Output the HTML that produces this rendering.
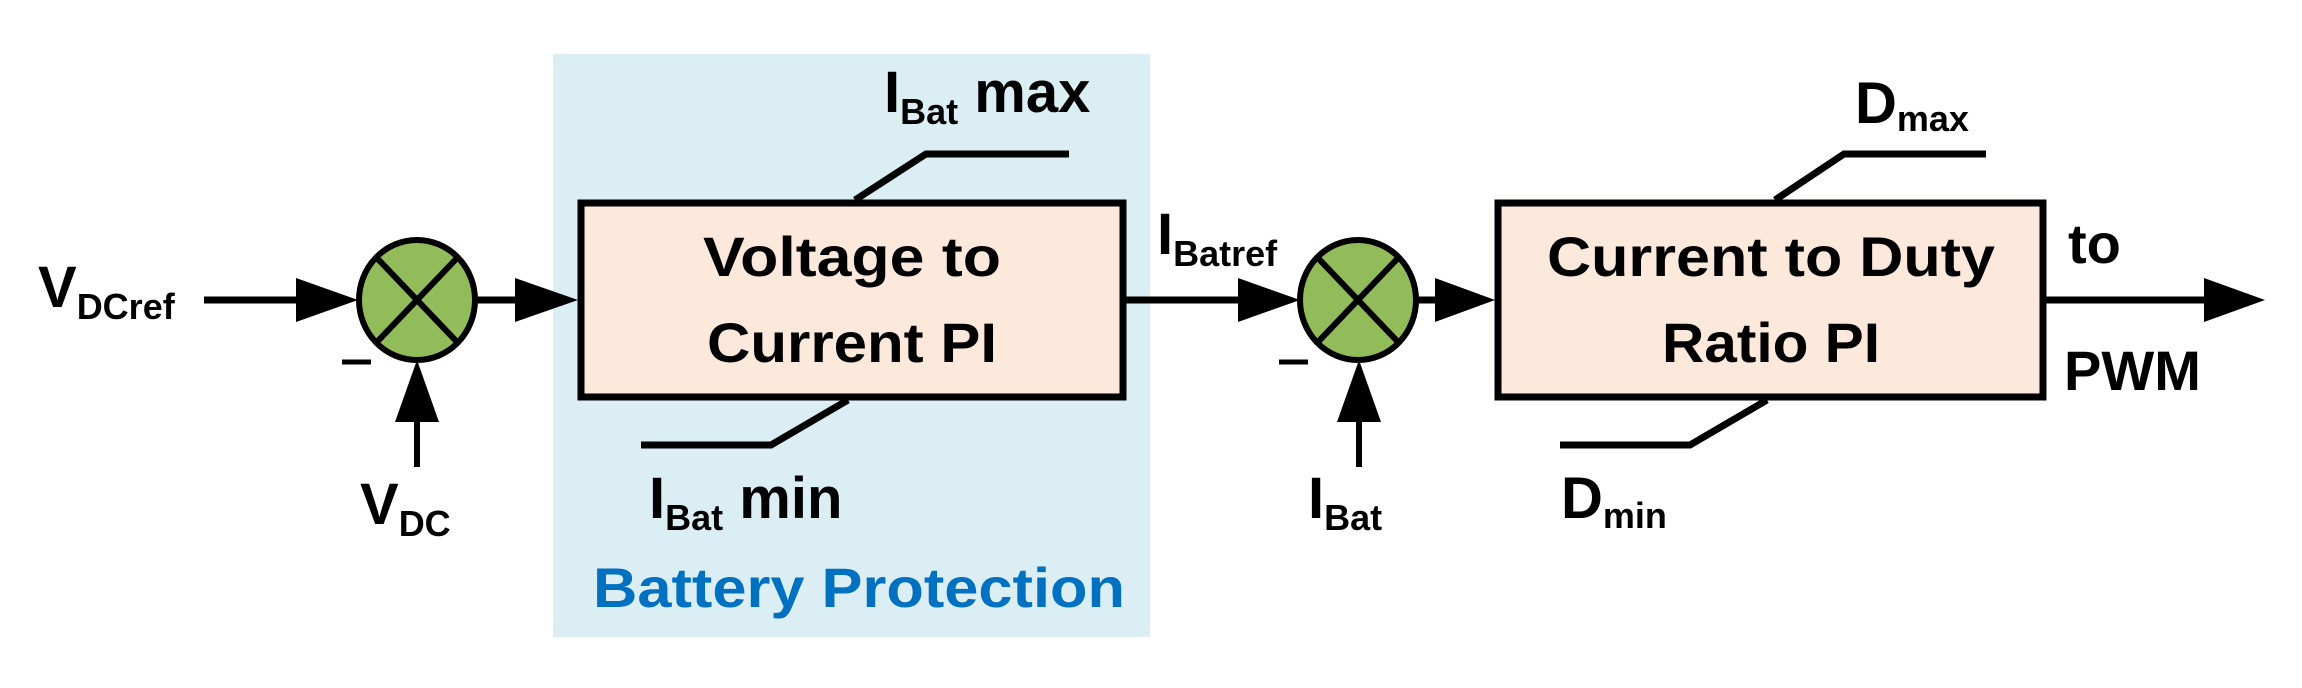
<!DOCTYPE html>
<html><head><meta charset="utf-8"><style>
html,body{margin:0;padding:0;background:#fff}
svg{display:block}
text{font-family:"Liberation Sans",sans-serif;font-weight:bold;fill:#000}
</style></head><body>
<svg width="2302" height="688" viewBox="0 0 2302 688" xmlns="http://www.w3.org/2000/svg">
<rect x="553" y="54" width="597" height="583" fill="#daeef3"/>
<!-- input line 1 -->
<line x1="204" y1="300" x2="300" y2="300" stroke="#000" stroke-width="7"/>
<polygon points="296,278 358,300 296,322" fill="#000"/>
<!-- summer 1 -->
<ellipse cx="417" cy="300" rx="58" ry="60" fill="#92bb5a" stroke="#000" stroke-width="6"/>
<line x1="376" y1="257" x2="458" y2="343" stroke="#000" stroke-width="6"/>
<line x1="458" y1="257" x2="376" y2="343" stroke="#000" stroke-width="6"/>
<line x1="476" y1="300" x2="520" y2="300" stroke="#000" stroke-width="7"/>
<polygon points="515,278 578,300 515,322" fill="#000"/>
<line x1="342" y1="362" x2="371" y2="362" stroke="#000" stroke-width="5"/>
<line x1="417" y1="467" x2="417" y2="415" stroke="#000" stroke-width="6"/>
<polygon points="395,422 417,360 439,422" fill="#000"/>
<!-- box1 -->
<rect x="581" y="203" width="542" height="194" fill="#fde9dc" stroke="#000" stroke-width="7"/>
<polyline points="855,200 926,154 1069,154" fill="none" stroke="#000" stroke-width="7"/>
<polyline points="641,445 771,445 848,400" fill="none" stroke="#000" stroke-width="7"/>
<!-- line to summer 2 -->
<line x1="1126" y1="300" x2="1240" y2="300" stroke="#000" stroke-width="7"/>
<polygon points="1238,278 1300,300 1238,322" fill="#000"/>
<ellipse cx="1358" cy="300" rx="58" ry="60" fill="#92bb5a" stroke="#000" stroke-width="6"/>
<line x1="1317" y1="257" x2="1399" y2="343" stroke="#000" stroke-width="6"/>
<line x1="1399" y1="257" x2="1317" y2="343" stroke="#000" stroke-width="6"/>
<line x1="1416" y1="300" x2="1440" y2="300" stroke="#000" stroke-width="7"/>
<polygon points="1435,278 1495,300 1435,322" fill="#000"/>
<line x1="1279" y1="362" x2="1308" y2="362" stroke="#000" stroke-width="5"/>
<line x1="1359" y1="467" x2="1359" y2="415" stroke="#000" stroke-width="6"/>
<polygon points="1337,422 1359,360 1381,422" fill="#000"/>
<!-- box2 -->
<rect x="1498" y="203" width="545" height="194" fill="#fde9dc" stroke="#000" stroke-width="7"/>
<polyline points="1775,200 1844,154 1986,154" fill="none" stroke="#000" stroke-width="7"/>
<polyline points="1560,445 1690,445 1767,400" fill="none" stroke="#000" stroke-width="7"/>
<line x1="2046" y1="300" x2="2210" y2="300" stroke="#000" stroke-width="7"/>
<polygon points="2204,278 2265,300 2204,322" fill="#000"/>
<!-- texts -->
<text x="852" y="276" font-size="56" text-anchor="middle" textLength="298" lengthAdjust="spacingAndGlyphs">Voltage to</text>
<text x="852" y="362" font-size="56" text-anchor="middle" textLength="290" lengthAdjust="spacingAndGlyphs">Current PI</text>
<text x="1771" y="276" font-size="56" text-anchor="middle" textLength="448" lengthAdjust="spacingAndGlyphs">Current to Duty</text>
<text x="1771" y="362" font-size="56" text-anchor="middle" textLength="218" lengthAdjust="spacingAndGlyphs">Ratio PI</text>
<text x="593" y="607" font-size="56" fill="#0070c0" style="fill:#0070c0" textLength="532" lengthAdjust="spacingAndGlyphs">Battery Protection</text>
<text x="38" y="307" font-size="58">V<tspan font-size="36" dy="12">DCref</tspan></text>
<text x="360" y="524" font-size="58">V<tspan font-size="36" dy="12">DC</tspan></text>
<text x="884" y="112" font-size="58">I<tspan font-size="36" dy="12">Bat</tspan><tspan dy="-12"> max</tspan></text>
<text x="649" y="518" font-size="58">I<tspan font-size="36" dy="12">Bat</tspan><tspan dy="-12"> min</tspan></text>
<text x="1157" y="254" font-size="58">I<tspan font-size="36" dy="12">Batref</tspan></text>
<text x="1308" y="518" font-size="58">I<tspan font-size="36" dy="12">Bat</tspan></text>
<text x="1855" y="123" font-size="58">D<tspan font-size="36" dy="8">max</tspan></text>
<text x="1561" y="518" font-size="58">D<tspan font-size="36" dy="10">min</tspan></text>
<text x="2068" y="263" font-size="56">to</text>
<text x="2064" y="390" font-size="56">PWM</text>
</svg>
</body></html>
